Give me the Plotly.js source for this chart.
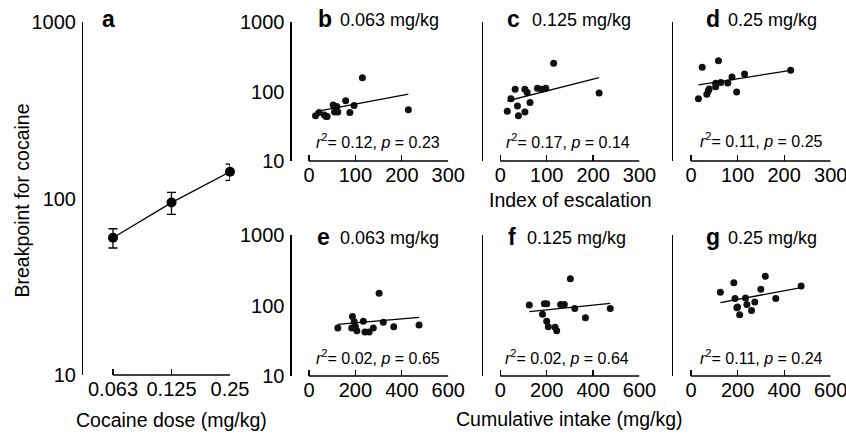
<!DOCTYPE html>
<html><head><meta charset="utf-8">
<script src="https://cdn.plot.ly/plotly-3.0.1.min.js"></script>
<style>html,body{margin:0;padding:0;background:#fff}#chart{width:846px;height:434px}</style>
</head><body><div id="chart"></div>
<script>
// ---------- data ----------
const doseLabels = ['0.063', '0.125', '0.25'];
const doseMean = [60, 95, 142];
const doseErr = [7.5, 13.5, 15];

const escB_x = [14, 22, 33, 37, 39, 52, 55, 60, 62, 79, 88, 97, 115, 214];
const escB_y = [45, 50, 46, 44, 44, 64, 51, 61, 51, 74, 50, 63, 159, 55];
const escC_x = [15, 23, 32, 37, 39, 53, 53, 58, 64, 80, 89, 98, 115, 213];
const escC_y = [52, 79, 108, 62, 45, 108, 51, 97, 70, 112, 108, 112, 256, 96];
const escD_x = [16, 24, 34, 37, 39, 53, 53, 59, 64, 79, 88, 98, 115, 214];
const escD_y = [79, 225, 92, 102, 109, 118, 132, 280, 135, 133, 163, 99, 180, 203];

const intE_x = [124, 184, 187, 195, 200, 206, 234, 241, 259, 277, 302, 320, 365, 474];
const intE_y = [48, 48, 70, 59, 50, 44, 60, 42, 42, 48, 149, 58, 50, 53];
const intF_x = [125, 182, 190, 200, 200, 207, 236, 243, 260, 276, 302, 321, 367, 474];
const intF_y = [102, 75, 106, 106, 60, 50, 49, 44, 103, 103, 240, 91, 67, 91];
const intG_x = [126, 184, 189, 197, 200, 209, 234, 240, 260, 274, 300, 319, 364, 473];
const intG_y = [154, 211, 126, 93, 95, 74, 128, 103, 85, 112, 170, 259, 126, 189];

const fitB_x = [14, 214], fitB_y = [51.5, 92];
const fitC_x = [15, 213], fitC_y = [73.5, 159];
const fitD_x = [16, 214], fitD_y = [125, 203];
const fitE_x = [124, 474], fitE_y = [54, 68];
const fitF_x = [125, 474], fitF_y = [82, 107];
const fitG_x = [126, 473], fitG_y = [110, 179];

const panelLetters = ['b', 'c', 'd', 'e', 'f', 'g'];
const panelDoses = ['0.063 mg/kg', '0.125 mg/kg', '0.25 mg/kg', '0.063 mg/kg', '0.125 mg/kg', '0.25 mg/kg'];
const r2Vals = ['0.12', '0.17', '0.11', '0.02', '0.02', '0.11'];
const pVals = ['0.23', '0.14', '0.25', '0.65', '0.64', '0.24'];

const yTickVals = [10, 100, 1000];
const yTickText = ['10', '100', '1000'];
const yMinorVals = [20, 30, 40, 50, 60, 70, 80, 90, 200, 300, 400, 500, 600, 700, 800, 900];
const escTicks = [0, 100, 200, 300];
const intTicks = [0, 200, 400, 600];

// ---------- layout helpers ----------
const W = 846, H = 434;
const FONT = '"Liberation Sans", Arial, Helvetica, sans-serif';
const px = v => v / W;
const py = v => 1 - v / H;

const layout = {
  width: W, height: H,
  margin: {l: 0, r: 0, t: 0, b: 0},
  showlegend: false,
  paper_bgcolor: '#fff', plot_bgcolor: 'rgba(0,0,0,0)',
  font: {family: FONT, size: 19, color: '#000'},
  annotations: [], shapes: []
};

// yl: y-axis line (px), x0/x1: pixel of first/last x tick, yd: y domain (px, top/bottom)
const panels = [
  {yl: 83.3, x0: 113, x1: 230, yd: [22.3, 375], xmax: 2, xtv: [0, 1, 2], xtt: doseLabels, ylab: true},
  {yl: 291.7, x0: 309, x1: 448.3, yd: [22.3, 161], xmax: 300, xtv: escTicks, ylab: true},
  {yl: 483.3, x0: 500.3, x1: 639.5, yd: [22.3, 161], xmax: 300, xtv: escTicks, ylab: false},
  {yl: 673.3, x0: 691, x1: 830.7, yd: [22.3, 161], xmax: 300, xtv: escTicks, ylab: false},
  {yl: 291.7, x0: 309, x1: 448.3, yd: [235, 376], xmax: 600, xtv: intTicks, ylab: true},
  {yl: 483.3, x0: 500.3, x1: 639.5, yd: [235, 376], xmax: 600, xtv: intTicks, ylab: false},
  {yl: 673.3, x0: 691, x1: 830.7, yd: [235, 376], xmax: 600, xtv: intTicks, ylab: false}
];

panels.forEach((p, i) => {
  const n = i === 0 ? '' : String(i + 1);
  const xmin = -(p.x0 - p.yl) / (p.x1 - p.x0) * p.xmax;
  const ydom = [py(p.yd[1]), py(p.yd[0])];
  layout['xaxis' + n] = {
    domain: [px(p.yl), px(p.x1)], anchor: 'y' + n,
    range: [xmin, p.xmax], showgrid: false, zeroline: false,
    showline: false,
    ticks: 'inside', ticklen: 6, tickwidth: 1.2, tickcolor: '#000',
    tickmode: 'array', tickvals: p.xtv,
    ticktext: p.xtt ? p.xtt : p.xtv.map(String),
    ticklabeloverflow: 'allow',
    tickfont: {size: 20, family: FONT, color: '#000'},
    fixedrange: true
  };
  layout['yaxis' + n] = {
    type: 'log', range: [1, 3], anchor: 'x' + n, domain: ydom,
    showgrid: false, zeroline: false,
    showline: true, linecolor: '#000', linewidth: 1.3,
    ticks: '', tickmode: 'array', tickvals: yTickVals, ticktext: yTickText,
    showticklabels: p.ylab, ticklabelstandoff: 2,
    tickfont: {size: 20, family: FONT, color: '#000'},
    fixedrange: true
  };
  // y ticks pointing into the plot; shape coordinates on a log axis are log10 values
  const addTick = (v, len, w) => layout.shapes.push({
    type: 'line', xref: 'x' + n, yref: 'y' + n, xsizemode: 'pixel', xanchor: xmin,
    x0: 0, x1: len, y0: Math.log10(v), y1: Math.log10(v), line: {color: '#000', width: w}
  });
  yTickVals.forEach(v => addTick(v, 7, 1.2));
  yMinorVals.forEach(v => addTick(v, 4, 1));
  // x axis line spans only from the first to the last tick
  layout.shapes.push({type: 'line', xref: 'x' + n, yref: 'y' + n + ' domain',
    x0: 0, x1: p.xmax, y0: 0, y1: 0, line: {color: '#000', width: 1.3}});
});

// ---------- traces ----------
const traces = [];
traces.push({
  type: 'scatter', mode: 'lines+markers', x: [0, 1, 2], y: doseMean,
  xaxis: 'x', yaxis: 'y', cliponaxis: false,
  line: {color: '#000', width: 1.3},
  marker: {color: '#000', size: 10},
  error_y: {type: 'data', array: doseErr, visible: true, color: '#000', thickness: 1.3, width: 4.5}
});
const scat = [[escB_x, escB_y], [escC_x, escC_y], [escD_x, escD_y], [intE_x, intE_y], [intF_x, intF_y], [intG_x, intG_y]];
const fits = [[fitB_x, fitB_y], [fitC_x, fitC_y], [fitD_x, fitD_y], [fitE_x, fitE_y], [fitF_x, fitF_y], [fitG_x, fitG_y]];
scat.forEach((s, i) => {
  const n = String(i + 2);
  traces.push({type: 'scatter', mode: 'markers', x: s[0], y: s[1], xaxis: 'x' + n, yaxis: 'y' + n,
    marker: {color: '#111', size: 7}, cliponaxis: false});
  traces.push({type: 'scatter', mode: 'lines', x: fits[i][0], y: fits[i][1], xaxis: 'x' + n, yaxis: 'y' + n,
    line: {color: '#000', width: 1.3}});
});

// ---------- annotations ----------
function ann(text, x, y, opts) {
  layout.annotations.push(Object.assign({
    text: text, x: px(x), y: py(y), xref: 'paper', yref: 'paper', showarrow: false,
    xanchor: 'center', yanchor: 'middle', borderpad: 0, font: {family: FONT, size: 19.5, color: '#000'}
  }, opts || {}));
}
ann('Breakpoint for cocaine', 21, 200.5, {textangle: -90});
ann('Cocaine dose (mg/kg)', 171, 420);
ann('Index of escalation', 570, 200);
ann('Cumulative intake (mg/kg)', 569, 419);
ann('<b>a</b>', 108.3, 19, {font: {family: FONT, size: 23, color: '#000'}});

const letterX = [318, 507, 706, 317, 508, 706];
const textX = [340, 531.7, 728, 340, 526.7, 728];
const titleY = [19, 19, 19, 237, 237, 237];
const statX = [378.3, 567.5, 761, 378, 566.7, 761];
const statY = [141, 141, 140, 356.7, 356.7, 356.7];
panelLetters.forEach((L, i) => {
  ann('<b>' + L + '</b>', letterX[i] - 1, titleY[i], {xanchor: 'left', font: {family: FONT, size: 23, color: '#000'}});
  ann(panelDoses[i], textX[i] - 1, titleY[i] + 1, {xanchor: 'left', font: {family: FONT, size: 18, color: '#000'}});
  ann('<i>r</i><sup>2</sup>= ' + r2Vals[i] + ', <i>p</i> = ' + pVals[i], statX[i], statY[i], {font: {family: FONT, size: 16, color: '#000'}});
});

Plotly.newPlot('chart', traces, layout, {staticPlot: true, displayModeBar: false});
</script>
</body></html>
